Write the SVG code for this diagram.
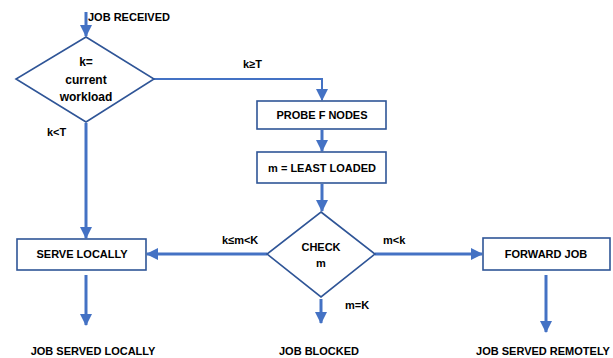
<svg xmlns="http://www.w3.org/2000/svg" width="613" height="358" viewBox="0 0 613 358">
<defs>
<style>
.box{fill:#fff;stroke:#2F5597;stroke-width:1.6}
.dia{fill:#fff;stroke:#2F5597;stroke-width:1.6}
.c{fill:none;stroke:#4472C4;stroke-width:3}
.ct{fill:none;stroke:#4472C4;stroke-width:2}
text{font-family:"Liberation Sans",Arial,sans-serif;font-weight:bold;font-size:11px;fill:#000}
.m{text-anchor:middle}
.big{font-size:12px}
</style>
<marker id="ah" markerUnits="userSpaceOnUse" markerWidth="12" markerHeight="12" refX="11" refY="6" orient="auto" viewBox="0 0 12 12">
<path d="M0,0 L12,6 L0,12 z" fill="#4472C4"/>
</marker>
</defs>
<rect width="613" height="358" fill="#fff"/>
<g id="connectors">
<line class="c" x1="86" y1="12" x2="86" y2="36" marker-end="url(#ah)"/>
<polyline class="ct" points="154,79 322,79 322,100" marker-end="url(#ah)"/>
<line class="c" x1="322" y1="130" x2="322" y2="151" marker-end="url(#ah)"/>
<line class="c" x1="322" y1="184" x2="322" y2="211" marker-end="url(#ah)"/>
<line class="c" x1="86" y1="123" x2="86" y2="238" marker-end="url(#ah)"/>
<line class="c" x1="267" y1="254" x2="147" y2="254" marker-end="url(#ah)"/>
<line class="c" x1="375" y1="254" x2="482" y2="254" marker-end="url(#ah)"/>
<line class="c" x1="321" y1="299" x2="321" y2="323" marker-end="url(#ah)"/>
<line class="c" x1="86" y1="275" x2="86" y2="325" marker-end="url(#ah)"/>
<line class="c" x1="546" y1="275" x2="546" y2="332" marker-end="url(#ah)"/>
<text x="243" y="68">k≥T</text>
<text x="47" y="136">k&lt;T</text>
<text x="222" y="244">k≤m&lt;K</text>
<text x="383" y="244">m&lt;k</text>
<text x="345" y="309">m=K</text>
</g>
<g id="start"><text x="88" y="21">JOB RECEIVED</text></g>
<g id="decision1">
<polygon class="dia" points="86,37 154,79 86,122 16,79"/>
<text class="m big" x="86" y="66">k=</text>
<text class="m big" x="86" y="84">current</text>
<text class="m big" x="86" y="101">workload</text>
</g>
<g id="probe">
<rect class="box" x="257" y="101" width="129" height="28"/>
<text class="m" x="322" y="119">PROBE F NODES</text>
</g>
<g id="least">
<rect class="box" x="257" y="152" width="129" height="31"/>
<text class="m" x="322" y="172">m = LEAST LOADED</text>
</g>
<g id="decision2">
<polygon class="dia" points="321,212 375,254 321,297 267,254"/>
<text class="m" x="321" y="251">CHECK</text>
<text class="m" x="321" y="267">m</text>
</g>
<g id="serve">
<rect class="box" x="17" y="239" width="129" height="31"/>
<text class="m" x="82" y="258">SERVE LOCALLY</text>
</g>
<g id="forward">
<rect class="box" x="483" y="238" width="127" height="32"/>
<text class="m" x="546" y="258">FORWARD JOB</text>
</g>
<g id="out1"><text class="m" x="93" y="355">JOB SERVED LOCALLY</text></g>
<g id="out2"><text class="m" x="319" y="355">JOB BLOCKED</text></g>
<g id="out3"><text class="m" x="543" y="355">JOB SERVED REMOTELY</text></g>
</svg>
